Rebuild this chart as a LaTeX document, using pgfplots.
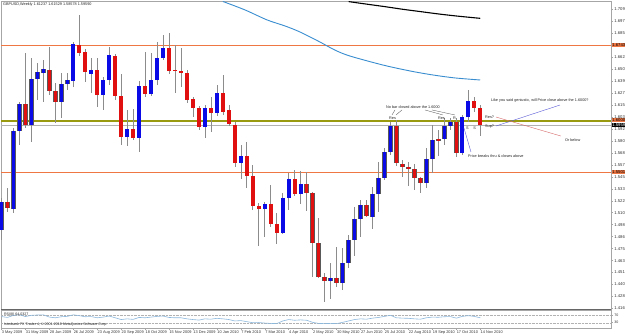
\documentclass[border=0pt]{standalone}
\usepackage{pgfplots}
\pgfplotsset{compat=1.18}
\usepackage{pgfplotstable}
\usepackage{fontspec}
\setmainfont{Liberation Sans}
\definecolor{candleup}{HTML}{0A0AE6}
\definecolor{candledn}{HTML}{E01010}
\definecolor{wick}{HTML}{8C8C8C}
\definecolor{lvlorange}{HTML}{EE7744}
\definecolor{lvlolive}{HTML}{9A9A10}
\definecolor{maBlue}{HTML}{3A8ED0}
\definecolor{rsiBlue}{HTML}{8CB8DC}
\definecolor{annBlue}{HTML}{5A5AD8}
\definecolor{annRed}{HTML}{D86A6A}

\pgfplotstableread{
i O H L C
0 1.4934 1.5247 1.4836 1.5208
2 1.5139 1.5932 1.5100 1.5902
3 1.5902 1.6186 1.5765 1.6166
5 1.5961 1.6616 1.5795 1.6411
6 1.6411 1.6567 1.6205 1.6479
7 1.6469 1.6597 1.6186 1.6509
10 1.6186 1.6469 1.6029 1.6362
11 1.6362 1.6469 1.6303 1.6401
12 1.6391 1.6773 1.6333 1.6753
15 1.6460 1.6616 1.6274 1.6499
17 1.6254 1.6430 1.6108 1.6401
18 1.6401 1.6724 1.6352 1.6645
21 1.5844 1.6108 1.5756 1.5922
23 1.5834 1.6391 1.5697 1.6342
25 1.6264 1.6665 1.6245 1.6401
26 1.6401 1.6773 1.6352 1.6616
27 1.6616 1.6841 1.6597 1.6714
34 1.5941 1.6156 1.5834 1.6127
36 1.6078 1.6352 1.6049 1.6274
40 1.5589 1.5765 1.5433 1.5658
44 1.5139 1.5208 1.4866 1.5188
47 1.4905 1.5296 1.4895 1.5247
48 1.5247 1.5491 1.5130 1.5433
50 1.5286 1.5511 1.5188 1.5384
55 1.4435 1.4611 1.4259 1.4465
57 1.4416 1.4758 1.4347 1.4611
58 1.4611 1.4885 1.4562 1.4836
59 1.4836 1.5159 1.4680 1.5042
60 1.5042 1.5227 1.4866 1.5178
62 1.5061 1.5355 1.4944 1.5286
63 1.5286 1.5599 1.5110 1.5443
64 1.5443 1.5736 1.5423 1.5697
65 1.5697 1.5990 1.5667 1.5951
71 1.5394 1.5736 1.5345 1.5628
72 1.5628 1.5961 1.5491 1.5814
74 1.5824 1.6029 1.5765 1.5951
75 1.5951 1.6029 1.5912 1.5990
77 1.5687 1.6059 1.5667 1.6039
78 1.6039 1.6303 1.5990 1.6196
}\upc

\pgfplotstableread{
i O H L C
1 1.5208 1.5345 1.5110 1.5149
4 1.6166 1.6665 1.5932 1.5961
8 1.6499 1.6724 1.6254 1.6293
9 1.6293 1.6372 1.5980 1.6186
13 1.6743 1.7037 1.6636 1.6665
14 1.6675 1.6704 1.6381 1.6479
16 1.6499 1.6616 1.6137 1.6254
19 1.6636 1.6655 1.6205 1.6245
20 1.6245 1.6460 1.5765 1.5844
22 1.5922 1.6117 1.5814 1.5834
24 1.6342 1.6675 1.6235 1.6264
28 1.6714 1.6861 1.6460 1.6489
29 1.6499 1.6743 1.6274 1.6489
30 1.6489 1.6714 1.6333 1.6469
31 1.6469 1.6499 1.6176 1.6205
32 1.6215 1.6235 1.6039 1.6127
33 1.6127 1.6147 1.5912 1.5941
35 1.6127 1.6235 1.5892 1.6078
37 1.6274 1.6450 1.6059 1.6088
38 1.6108 1.6156 1.5951 1.5971
39 1.5961 1.5990 1.5550 1.5589
41 1.5658 1.5795 1.5345 1.5462
42 1.5462 1.5570 1.5130 1.5169
43 1.5169 1.5198 1.4778 1.5139
45 1.5188 1.5374 1.4963 1.4993
46 1.4993 1.5100 1.4797 1.4905
49 1.5433 1.5521 1.5267 1.5286
51 1.5384 1.5501 1.5120 1.5296
52 1.5296 1.5306 1.4474 1.4807
53 1.4807 1.5051 1.4465 1.4474
54 1.4474 1.4513 1.4230 1.4435
56 1.4465 1.4768 1.4377 1.4416
61 1.5178 1.5227 1.5061 1.5071
66 1.5951 1.6010 1.5560 1.5589
67 1.5579 1.5619 1.5452 1.5550
68 1.5550 1.5599 1.5364 1.5531
69 1.5531 1.5579 1.5325 1.5443
70 1.5443 1.5452 1.5296 1.5394
73 1.5824 1.5912 1.5658 1.5804
76 1.5990 1.6029 1.5648 1.5687
79 1.6196 1.6235 1.6088 1.6127
80 1.6124 1.6153 1.5858 1.5959
}\dnc

\pgfplotstableread{
i r
0 65
1 60
2 72
3 75
4 65
5 72
6 74
7 75
8 62
9 58
10 64
11 66
12 75
13 70
14 64
15 65
16 58
17 62
18 68
19 58
20 48
21 52
22 49
23 60
24 58
25 62
26 66
27 68
28 60
29 58
30 58
31 52
32 48
33 45
34 52
35 50
36 55
37 52
38 48
39 40
40 42
41 36
42 30
43 31
44 28
45 26
46 25
47 40
48 48
49 44
50 46
51 44
52 32
53 26
54 25
55 26
56 25
57 32
58 40
59 48
60 52
61 50
62 56
63 60
64 66
65 72
66 58
67 56
68 55
69 52
70 50
71 58
72 62
73 61
74 64
75 65
76 56
77 66
78 70
79 66
80 58
}\rsi

\begin{document}
\begin{tikzpicture}
\useasboundingbox (0,0) rectangle (625bp,334bp);
\fill[white] (0,0) rectangle (625bp,334bp);
\pgfplotsset{candle/.style={only marks, mark=*, mark size=0pt, mark options={draw opacity=0, fill opacity=0}, forget plot}}
\begin{axis}[
  at={(1bp,24.5bp)}, anchor=south west, scale only axis,
  width=610bp, height=308bp,
  xmin=-0.08, xmax=101.85, ymin=1.41565, ymax=1.71687,
  clip=false,
  axis line style={draw=gray!70, line width=0.6bp},
  xtick=\empty,
  ytick={1.4167,1.4284,1.4401,1.4518,1.4635,1.4752,1.4869,1.4986,1.5103,1.5220,1.5337,1.5454,1.5571,1.5688,1.5805,1.5922,1.6039,1.6156,1.6273,1.6390,1.6507,1.6624,1.6741,1.6858,1.6975,1.7092},
  yticklabels={1.41670,1.42840,1.44010,1.45180,1.46350,1.47520,1.48690,1.49860,1.51030,1.52200,1.53370,1.54540,1.55710,1.56880,1.58050,1.59220,1.60390,1.61560,1.62730,1.63900,1.65070,1.66240,1.67410,1.68580,1.69750,1.70920},
  ytick pos=right, yticklabel pos=right, tick align=outside,
  major tick length=2bp, tick style={gray!70, line width=0.5bp},
  yticklabel style={font=\fontsize{4.2}{4.2}\selectfont, text=black!80, anchor=west, inner sep=0pt, xshift=1.2bp},
]
% level lines
\addplot[lvlorange, line width=1bp] coordinates {(-0.08,1.6743) (101.85,1.6743)};
\addplot[lvlorange, line width=1bp] coordinates {(-0.08,1.5501) (101.85,1.5501)};
\addplot[lvlolive, line width=1.1bp] coordinates {(-0.08,1.6000) (101.85,1.6000)};
\addplot[gray!60, line width=0.6bp] coordinates {(-0.08,1.5959) (101.85,1.5959)};
% moving averages
\addplot[black, line width=1.1bp, smooth] coordinates {(58.0,1.7168) (61,1.7143) (64,1.7119) (67,1.7093) (70,1.7070) (73,1.7047) (76,1.7027) (80,1.7004)};
\addplot[maBlue, line width=0.9bp, smooth] coordinates {(37.0,1.7169) (40.7,1.7086) (44.4,1.6988) (47.4,1.6929) (49.9,1.6870) (53.2,1.6773) (55.7,1.6694) (58.2,1.6636) (63.7,1.6548) (68.3,1.6489) (72.1,1.6450) (75.8,1.6421) (80.0,1.6401)};
% wicks
\addplot[candle, error bars/.cd, y dir=both, y explicit, error mark=none,
  error bar style={draw=wick, line width=0.7bp}]
  table[x=i, y expr=(\thisrow{H}+\thisrow{L})/2, y error expr=(\thisrow{H}-\thisrow{L})/2] {\upc};
\addplot[candle, error bars/.cd, y dir=both, y explicit, error mark=none,
  error bar style={draw=wick, line width=0.7bp}]
  table[x=i, y expr=(\thisrow{H}+\thisrow{L})/2, y error expr=(\thisrow{H}-\thisrow{L})/2] {\dnc};
% body outlines
\addplot[candle, error bars/.cd, y dir=both, y explicit, error mark=none,
  error bar style={draw=black!65, line width=4.4bp}]
  table[x=i, y expr=(\thisrow{O}+\thisrow{C})/2, y error expr={max(abs(\thisrow{C}-\thisrow{O})/2,0.0003)+0.0002}] {\upc};
\addplot[candle, error bars/.cd, y dir=both, y explicit, error mark=none,
  error bar style={draw=black!65, line width=4.4bp}]
  table[x=i, y expr=(\thisrow{O}+\thisrow{C})/2, y error expr={max(abs(\thisrow{C}-\thisrow{O})/2,0.0003)+0.0002}] {\dnc};
% bodies
\addplot[candle, error bars/.cd, y dir=both, y explicit, error mark=none,
  error bar style={draw=candleup, line width=3.6bp}]
  table[x=i, y expr=(\thisrow{O}+\thisrow{C})/2, y error expr={max(abs(\thisrow{C}-\thisrow{O})/2,0.0003)}] {\upc};
\addplot[candle, error bars/.cd, y dir=both, y explicit, error mark=none,
  error bar style={draw=candledn, line width=3.6bp}]
  table[x=i, y expr=(\thisrow{O}+\thisrow{C})/2, y error expr={max(abs(\thisrow{C}-\thisrow{O})/2,0.0003)}] {\dnc};
% annotations
\tikzset{ann/.style={font=\fontsize{3.8}{3.8}\selectfont, inner sep=0pt, anchor=west, text=black!85}}
\node[ann] at (axis cs:0.25,1.7139) {GBPUSD,Weekly 1.61237 1.61529 1.58578 1.59590};
\node[ann] at (axis cs:64.24,1.6137) {No bar closed above the 1.6000};
\node[ann] at (axis cs:64.75,1.6029) {Res};
\node[ann] at (axis cs:72.93,1.6029) {Res};
\node[ann] at (axis cs:75.44,1.6029) {R};
\draw[black!70, line width=0.3bp] (axis cs:65.75,1.6108) -- (axis cs:65.25,1.6059);
\draw[black!70, line width=0.3bp] (axis cs:66.92,1.6108) -- (axis cs:65.92,1.6059);
\draw[black!70, line width=0.3bp] (axis cs:70.76,1.6108) -- (axis cs:73.77,1.6059);
\draw[black!70, line width=0.3bp] (axis cs:71.93,1.6108) -- (axis cs:75.77,1.6059);
\node[ann] at (axis cs:77.60,1.5932) {S};
\node[ann] at (axis cs:78.80,1.5932) {S};
\node[ann] at (axis cs:77.95,1.5658) {Price breaks thru \& closes above};
\draw[annBlue, line width=0.4bp] (axis cs:78.45,1.5697) -- (axis cs:77.28,1.5932);
\node[ann] at (axis cs:81.79,1.6196) {Like you said geniustic, will Price close above the 1.6000?};
\node[ann] at (axis cs:80.79,1.6039) {Res?};
\node[ann] at (axis cs:80.79,1.5941) {Sup?};
\draw[annBlue, line width=0.4bp] (axis cs:93.32,1.6156) -- (axis cs:82.62,1.5951);
\draw[annRed, line width=0.4bp] (axis cs:82.62,1.6039) -- (axis cs:93.48,1.5853);
\node[ann] at (axis cs:94.15,1.5814) {Or below};
% price tags on the scale
\tikzset{tag/.style={font=\fontsize{4.2}{4.2}\selectfont, inner xsep=0.6bp, inner ysep=0.5bp, anchor=west, xshift=0.6bp}}
\node[tag, fill=lvlorange, text=black] at (axis cs:101.85,1.6743) {1.67430};
\node[tag, fill=lvlorange, text=black] at (axis cs:101.85,1.6010) {1.60000};
\node[tag, fill=black, text=white] at (axis cs:101.85,1.5962) {1.59590};
\node[tag, fill=lvlorange, text=black] at (axis cs:101.85,1.5501) {1.55010};
\end{axis}
% separator
\draw[gray!80!black, line width=1.4bp] (1bp,24.3bp) -- (611bp,24.3bp);
\begin{axis}[
  at={(1bp,6bp)}, anchor=south west, scale only axis,
  width=610bp, height=17.6bp,
  xmin=-0.08, xmax=101.85, ymin=0, ymax=100,
  axis line style={draw=gray!70, line width=0.6bp},
  xtick={0,4,...,80},
  xticklabels={3 May 2009,31 May 2009,28 Jun 2009,26 Jul 2009,23 Aug 2009,20 Sep 2009,18 Oct 2009,15 Nov 2009,13 Dec 2009,10 Jan 2010,7 Feb 2010,7 Mar 2010,4 Apr 2010,2 May 2010,30 May 2010,27 Jun 2010,25 Jul 2010,22 Aug 2010,19 Sep 2010,17 Oct 2010,14 Nov 2010},
  xtick pos=bottom, xticklabel pos=bottom, tick align=outside,
  major tick length=2bp, tick style={gray!70, line width=0.5bp},
  xticklabel style={font=\fontsize{3.9}{3.9}\selectfont, text=black!80, anchor=north west, inner sep=0pt, xshift=0.3bp, yshift=-0.8bp},
  ytick={30,70}, yticklabels={30,70},
  ytick pos=right, yticklabel pos=right,
  yticklabel style={font=\fontsize{3.6}{3.6}\selectfont, text=black!80, anchor=west, inner sep=0pt, xshift=1.2bp},
]
\addplot[gray!60, densely dotted, line width=0.4bp] coordinates {(-0.08,70) (101.85,70)};
\addplot[gray!60, densely dotted, line width=0.4bp] coordinates {(-0.08,30) (101.85,30)};
\addplot[rsiBlue, line width=0.6bp] table[x=i, y=r] {\rsi};
\node[font=\fontsize{3.6}{3.6}\selectfont, inner sep=0pt, anchor=west, text=black!85] at (axis cs:0.4,78) {RSI(8) 64.0327};
\node[font=\fontsize{3.6}{3.6}\selectfont, inner sep=0pt, anchor=west, text=black!85] at (axis cs:0.4,18) {Interbank FX Trader 4, \textcopyright\ 2001-2010 MetaQuotes Software Corp.};
\end{axis}
\end{tikzpicture}
\end{document}
